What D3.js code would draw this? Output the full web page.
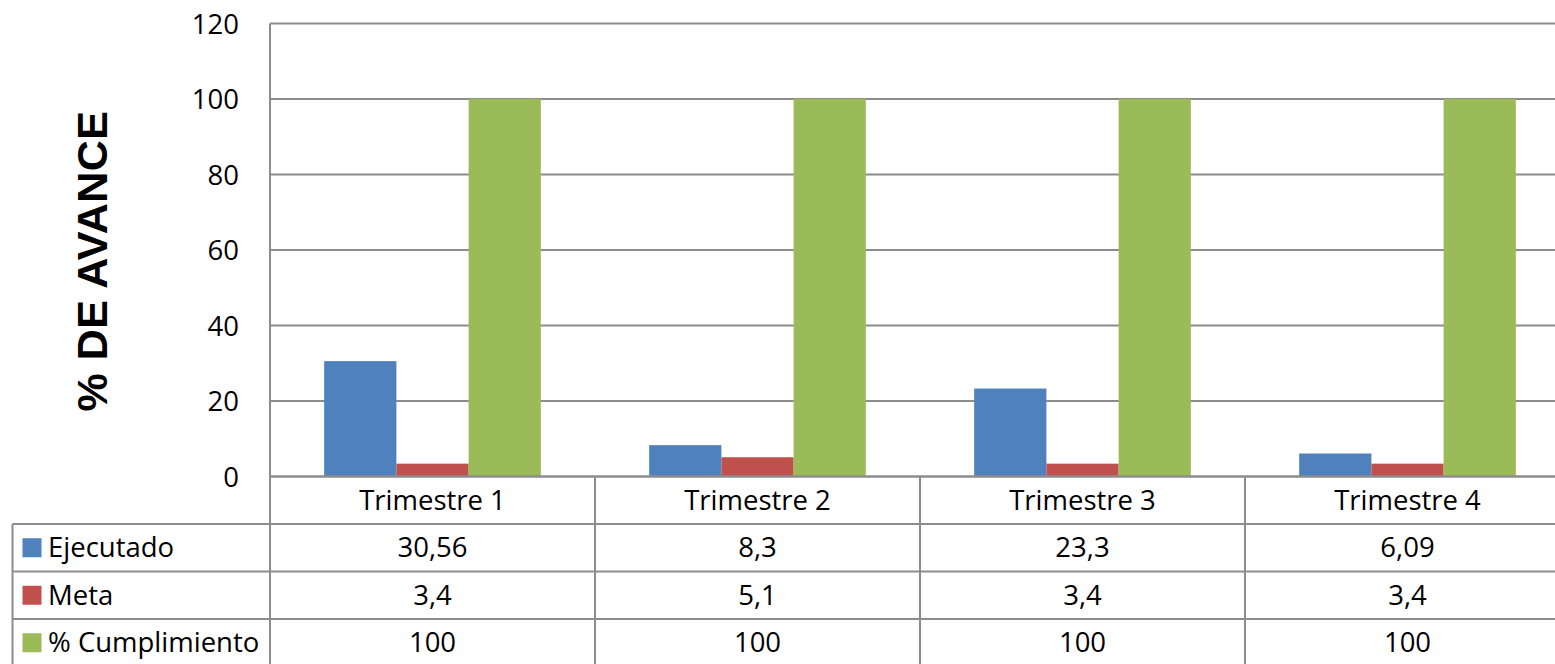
<!DOCTYPE html>
<html>
<head>
<meta charset="utf-8">
<script src="https://cdn.jsdelivr.net/npm/d3@7"></script>
<style>
  body { margin: 0; background: #fff; }
  svg { display: block; }
</style>
</head>
<body>
<div id="chart"></div>
<script>
// chart data
var categories = ["Trimestre 1", "Trimestre 2", "Trimestre 3", "Trimestre 4"];
var seriesNames = ["Ejecutado", "Meta", "% Cumplimiento"];
var ejecutado = [30.56, 8.3, 23.3, 6.09];
var meta = [3.4, 5.1, 3.4, 3.4];
var cumplimiento = [100, 100, 100, 100];
var ejecutadoLabels = ["30,56", "8,3", "23,3", "6,09"];
var metaLabels = ["3,4", "5,1", "3,4", "3,4"];
var cumplimientoLabels = ["100", "100", "100", "100"];
var yTicks = [0, 20, 40, 60, 80, 100, 120];
var colors = ["#4F81BD", "#C0504D", "#9BBB59"];

var W = 1555, H = 664;
var LEFT = 270, RIGHT = 1570, TOP = 23.5, BASE = 476.5;
var ROW_H = 47.5;
var TABLE_LEFT = 12.5;
var GRID = "#8c8c8c";
var FONT = "'Open Sans', 'Liberation Sans', sans-serif";
var FS = "27.5px";

var series = [ejecutado, meta, cumplimiento];
var seriesLabels = [ejecutadoLabels, metaLabels, cumplimientoLabels];

var svg = d3.select("#chart")
  .append("svg")
  .attr("width", W)
  .attr("height", H);

var x = d3.scaleBand()
  .domain(categories)
  .range([LEFT, RIGHT]);

// excel gap width 150%
var barW = x.bandwidth() / (3 + 1.5);
var groupOff = (x.bandwidth() - 3 * barW) / 2;

var y = d3.scaleLinear()
  .domain([0, 120])
  .range([BASE, TOP]);

// gridlines
svg.append("g")
  .selectAll("line")
  .data(yTicks.slice(1))
  .enter()
  .append("line")
  .attr("x1", LEFT)
  .attr("x2", RIGHT)
  .attr("y1", function(d) { return y(d); })
  .attr("y2", function(d) { return y(d); })
  .style("stroke", GRID)
  .style("stroke-width", 2);

// bars
series.forEach(function(vals, s) {
  svg.append("g")
    .selectAll("rect")
    .data(vals)
    .enter()
    .append("rect")
    .attr("x", function(d, i) { return x(categories[i]) + groupOff + s * barW; })
    .attr("y", function(d) { return y(d); })
    .attr("width", barW)
    .attr("height", function(d) { return BASE - y(d); })
    .style("fill", colors[s]);
});

// y axis tick labels
var yAxis = d3.axisLeft(y)
  .tickValues(yTicks)
  .tickSize(0)
  .tickPadding(0);

var ya = svg.append("g")
  .attr("transform", "translate(" + 239 + ",0)")
  .call(yAxis);
ya.select(".domain").remove();
ya.selectAll("text")
  .style("font-family", FONT)
  .style("font-size", FS)
  .style("fill", "#000")
  .attr("dy", "0.35em");

// axis title
svg.append("text")
  .attr("transform", "translate(107,261) rotate(-90)")
  .attr("text-anchor", "middle")
  .style("font-family", "'Liberation Sans', Arial, sans-serif")
  .style("font-weight", "bold")
  .style("font-size", "43px")
  .style("letter-spacing", "0.5px")
  .text("% DE AVANCE");

// data table
var table = svg.append("g");
var rowY = d3.range(5).map(function(i) { return BASE + i * ROW_H; });

// horizontal lines
table.append("line")
  .attr("x1", LEFT).attr("x2", RIGHT)
  .attr("y1", BASE).attr("y2", BASE)
  .style("stroke", GRID).style("stroke-width", 2.5);
rowY.slice(1).forEach(function(yy) {
  table.append("line")
    .attr("x1", TABLE_LEFT).attr("x2", RIGHT)
    .attr("y1", yy).attr("y2", yy)
    .style("stroke", GRID).style("stroke-width", 2);
});

// vertical lines
table.append("line")
  .attr("x1", TABLE_LEFT).attr("x2", TABLE_LEFT)
  .attr("y1", rowY[1]).attr("y2", H + 10)
  .style("stroke", GRID).style("stroke-width", 2);
table.append("line")
  .attr("x1", LEFT).attr("x2", LEFT)
  .attr("y1", TOP).attr("y2", H + 10)
  .style("stroke", GRID).style("stroke-width", 2);
categories.slice(1).forEach(function(c) {
  table.append("line")
    .attr("x1", x(c)).attr("x2", x(c))
    .attr("y1", BASE).attr("y2", H + 10)
    .style("stroke", GRID).style("stroke-width", 2);
});

// category labels
table.selectAll("text.cat")
  .data(categories)
  .enter()
  .append("text")
  .attr("class", "cat")
  .attr("x", function(d) { return x(d) + x.bandwidth() / 2; })
  .attr("y", rowY[0] + ROW_H / 2)
  .attr("dy", "0.35em")
  .attr("text-anchor", "middle")
  .style("font-family", FONT)
  .style("font-size", FS)
  .text(function(d) { return d; });

// series rows
seriesNames.forEach(function(name, s) {
  var cy = rowY[s + 1] + ROW_H / 2;
  table.append("rect")
    .attr("x", 22.5).attr("y", cy - 9.5)
    .attr("width", 19).attr("height", 19)
    .style("fill", colors[s]);
  table.append("text")
    .attr("x", 48).attr("y", cy)
    .attr("dy", "0.35em")
    .style("font-family", FONT)
    .style("font-size", FS)
    .text(name);
  table.selectAll("text.v" + s)
    .data(seriesLabels[s])
    .enter()
    .append("text")
    .attr("class", "v" + s)
    .attr("x", function(d, i) { return x(categories[i]) + x.bandwidth() / 2; })
    .attr("y", cy)
    .attr("dy", "0.35em")
    .attr("text-anchor", "middle")
    .style("font-family", FONT)
    .style("font-size", FS)
    .text(function(d) { return d; });
});
</script>
</body>
</html>
